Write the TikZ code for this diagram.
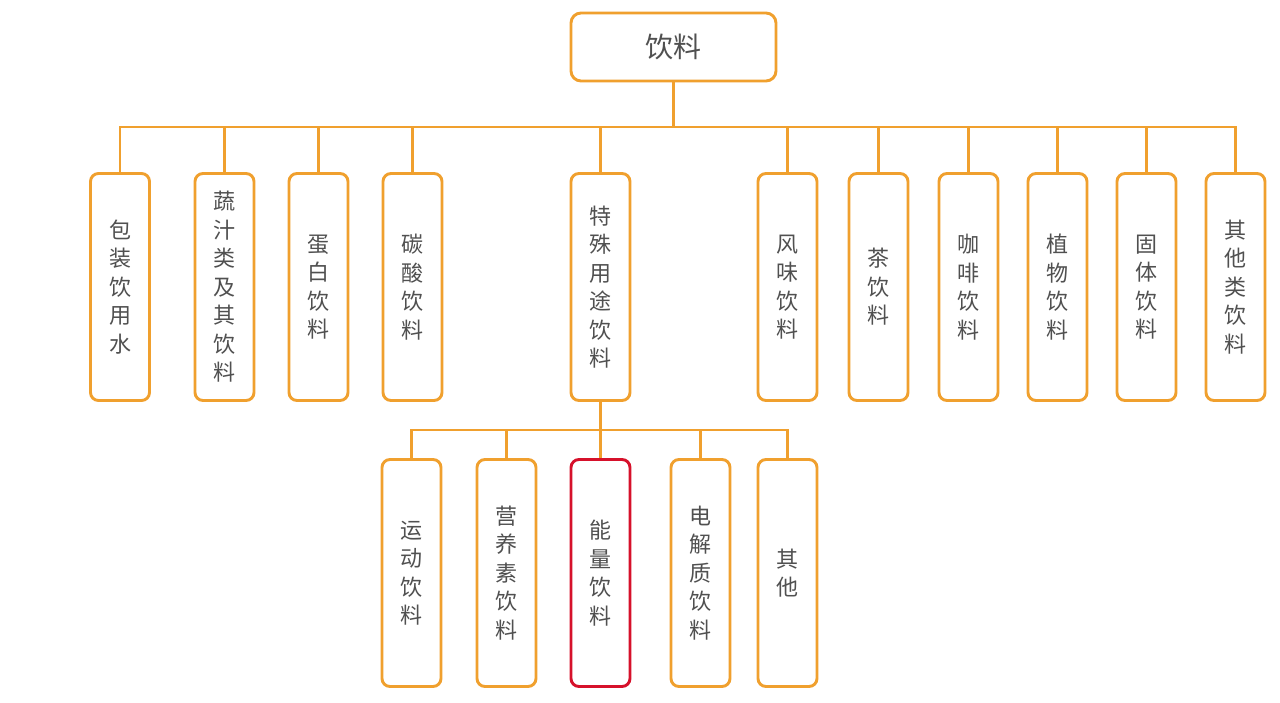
\documentclass[tikz,border=0pt]{standalone}
\usepackage{fontspec}
\setmainfont{Noto Sans CJK SC}
\definecolor{org}{HTML}{F0A02E}
\definecolor{redb}{HTML}{D6112B}
\definecolor{txt}{HTML}{505050}
\begin{document}
\begin{tikzpicture}[x=1pt,y=-1pt,
  box/.style={draw=org,line width=2.9pt,rounded corners=8pt,fill=white,
    minimum width=59pt,minimum height=227pt,inner sep=0pt,text=txt,
    align=center,font=\fontsize{22}{28.5}\selectfont},
  topbox/.style={draw=org,line width=2.9pt,rounded corners=10pt,fill=white,
    minimum width=205pt,minimum height=68pt,text=txt,font=\fontsize{28}{30}\selectfont},
  conn/.style={draw=org,line width=2.9pt}]
\useasboundingbox (0,0) rectangle (1280,702);
\node[topbox] (root) at (673.5,47) {饮料};
\foreach \n/\x/\t in {c1/120/{包\\装\\饮\\用\\水},
  c2/224.5/{蔬\\汁\\类\\及\\其\\饮\\料},
  c3/318.5/{蛋\\白\\饮\\料},
  c4/412.5/{碳\\酸\\饮\\料},
  c5/600.5/{特\\殊\\用\\途\\饮\\料},
  c6/787.5/{风\\味\\饮\\料},
  c7/878.5/{茶\\饮\\料},
  c8/968.5/{咖\\啡\\饮\\料},
  c9/1057.5/{植\\物\\饮\\料},
  c10/1146.5/{固\\体\\饮\\料},
  c11/1235.5/{其\\他\\类\\饮\\料}}{
  \node[box] (\n) at (\x,287) {\t};
}
\foreach \n/\x/\t in {d1/411.5/{运\\动\\饮\\料},
  d2/506.5/{营\\养\\素\\饮\\料},
  d4/700.5/{电\\解\\质\\饮\\料},
  d5/787.5/{其\\他}}{
  \node[box] (\n) at (\x,573) {\t};
}
\node[box,draw=redb] (d3) at (600.5,573) {能\\量\\饮\\料};
\coordinate (bus) at (673.5,127);
\coordinate (bus2) at (600.5,430);
\draw[conn] (root.south) -- (bus);
\foreach \n in {c1,c2,c3,c4,c5,c6,c7,c8,c9,c10,c11}{
  \draw[conn] (bus) -| (\n.north);
}
\draw[conn] (c5.south) -- (bus2);
\foreach \n in {d1,d2,d3,d4,d5}{
  \draw[conn] (bus2) -| (\n.north);
}
\end{tikzpicture}
\end{document}
